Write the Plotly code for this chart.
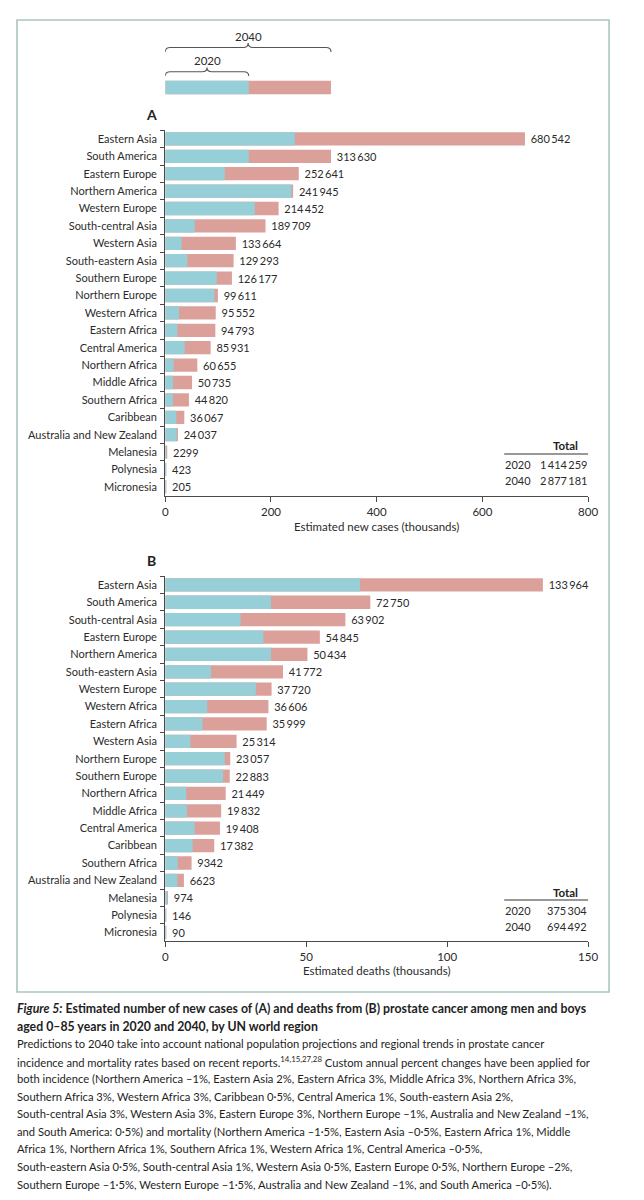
import plotly.graph_objects as go

# ---------------- data ----------------
regions_cases = ["Eastern Asia", "South America", "Eastern Europe", "Northern America",
                 "Western Europe", "South-central Asia", "Western Asia", "South-eastern Asia",
                 "Southern Europe", "Northern Europe", "Western Africa", "Eastern Africa",
                 "Central America", "Northern Africa", "Middle Africa", "Southern Africa",
                 "Caribbean", "Australia and New Zealand", "Melanesia", "Polynesia", "Micronesia"]
cases_2040 = [680542, 313630, 252641, 241945, 214452, 189709, 133664, 129293, 126177, 99611,
              95552, 94793, 85931, 60655, 50735, 44820, 36067, 24037, 2299, 423, 205]
cases_2020 = [245000, 158000, 112600, 238700, 169400, 55700, 31000, 41800, 97400, 93000,
              26000, 22800, 36700, 15900, 14600, 14600, 20900, 21600, 1100, 260, 120]

regions_deaths = ["Eastern Asia", "South America", "South-central Asia", "Eastern Europe",
                  "Northern America", "South-eastern Asia", "Western Europe", "Western Africa",
                  "Eastern Africa", "Western Asia", "Northern Europe", "Southern Europe",
                  "Northern Africa", "Middle Africa", "Central America", "Caribbean",
                  "Southern Africa", "Australia and New Zealand", "Melanesia", "Polynesia", "Micronesia"]
deaths_2040 = [133964, 72750, 63902, 54845, 50434, 41772, 37720, 36606, 35999, 25314, 23057,
               22883, 21449, 19832, 19408, 17382, 9342, 6623, 974, 146, 90]
deaths_2020 = [69100, 37500, 26700, 34800, 37500, 16200, 32100, 14900, 13200, 8900, 21100,
               20500, 7400, 7700, 10400, 9700, 4400, 4300, 450, 80, 50]

years = ["2020", "2040"]
total_cases = [1414259, 2877181]
total_deaths = [375304, 694492]

cases_ticks = [0, 200, 400, 600, 800]
deaths_ticks = [0, 50, 100, 150]

caption_lines = [
    "<b><i>Figure 5:</i> Estimated number of new cases of (A) and deaths from (B) prostate cancer among men and boys</b>",
    "<b>aged 0–85 years in 2020 and 2040, by UN world region</b>",
    "Predictions to 2040 take into account national population projections and regional trends in prostate cancer",
    "incidence and mortality rates based on recent reports.<sup>14,15,27,28</sup> Custom annual percent changes have been applied for",
    "both incidence (Northern America –1%, Eastern Asia 2%, Eastern Africa 3%, Middle Africa 3%, Northern Africa 3%,",
    "Southern Africa 3%, Western Africa 3%, Caribbean 0·5%, Central America 1%, South-eastern Asia 2%,",
    "South-central Asia 3%, Western Asia 3%, Eastern Europe 3%, Northern Europe –1%, Australia and New Zealand –1%,",
    "and South America: 0·5%) and mortality (Northern America –1·5%, Eastern Asia –0·5%, Eastern Africa 1%, Middle",
    "Africa 1%, Northern Africa 1%, Southern Africa 1%, Western Africa 1%, Central America –0·5%,",
    "South-eastern Asia 0·5%, South-central Asia 1%, Western Asia 0·5%, Eastern Europe 0·5%, Northern Europe –2%,",
    "Southern Europe –1·5%, Western Europe –1·5%, Australia and New Zealand –1%, and South America –0·5%).",
]

# ---------------- styling ----------------
REF_W, REF_H = 644, 1200       # target picture size; positions below are in its pixels
W, H = 656, 1200               # figure size (the photographed page comes out slightly narrower)
FONT = "Lato"
FS = 11
TXT = "#2b2b2b"
AXC = "#4a4a4a"
BLUE = "#96cfd8"
PINK = "#dca09b"
BORDER = "#a9c6c0"


def px(x):
    return x / REF_W


def py(y):
    return 1 - y / REF_H


def fmt(v):
    s = f"{v:,}"
    if v < 10000:
        return s.replace(",", "")
    return s.replace(",", "\u2009")


X0, X1 = 162.5, 586.0          # picture-pixel extent of both x axes
A_TOP, A_BOT = 130.2, 495.6
B_TOP, B_BOT = 576.2, 941.2
BARGAP = 0.235

fig = go.Figure()

# Panel A
fig.add_trace(go.Bar(y=regions_cases, x=[v / 1000 for v in cases_2040], orientation="h",
                     marker=dict(color=PINK, line=dict(width=0)), name="2040",
                     text=["\u202f" + fmt(v) for v in cases_2040], textposition="outside",
                     constraintext="none", cliponaxis=False,
                     textfont=dict(family=FONT, size=FS, color=TXT),
                     xaxis="x", yaxis="y", hoverinfo="x+y"))
fig.add_trace(go.Bar(y=regions_cases, x=[v / 1000 for v in cases_2020], orientation="h",
                     marker=dict(color=BLUE, line=dict(width=0)), name="2020",
                     xaxis="x", yaxis="y", hoverinfo="x+y"))

# Panel B
fig.add_trace(go.Bar(y=regions_deaths, x=[v / 1000 for v in deaths_2040], orientation="h",
                     marker=dict(color=PINK, line=dict(width=0)), name="2040",
                     text=["\u202f" + fmt(v) for v in deaths_2040], textposition="outside",
                     constraintext="none", cliponaxis=False,
                     textfont=dict(family=FONT, size=FS, color=TXT),
                     xaxis="x2", yaxis="y2", hoverinfo="x+y"))
fig.add_trace(go.Bar(y=regions_deaths, x=[v / 1000 for v in deaths_2020], orientation="h",
                     marker=dict(color=BLUE, line=dict(width=0)), name="2020",
                     xaxis="x2", yaxis="y2", hoverinfo="x+y"))

# Key bar (a copy of the South America bar of panel A)
key_idx = regions_cases.index("South America")
key_2020 = cases_2020[key_idx] / 1000
key_2040 = cases_2040[key_idx] / 1000
fig.add_trace(go.Bar(y=["key"], x=[key_2040], orientation="h", marker=dict(color=PINK, line=dict(width=0)),
                     xaxis="x", yaxis="y3", hoverinfo="skip"))
fig.add_trace(go.Bar(y=["key"], x=[key_2020], orientation="h", marker=dict(color=BLUE, line=dict(width=0)),
                     xaxis="x", yaxis="y3", hoverinfo="skip"))


def xaxis_cfg(rng, ticks, anchor):
    return dict(domain=[px(X0), px(X1)], range=rng, tickvals=ticks, anchor=anchor,
                showgrid=False, zeroline=False, showline=True, linecolor=AXC, linewidth=1.3,
                ticks="outside", ticklen=5, tickwidth=1, tickcolor=AXC,
                tickfont=dict(family=FONT, size=FS + 0.5, color=TXT), fixedrange=True)


def yaxis_cfg(top, bot, anchor):
    return dict(domain=[py(bot), py(top)], anchor=anchor, type="category", autorange="reversed",
                showgrid=False, zeroline=False, showline=True, linecolor=AXC, linewidth=1.3,
                ticks="outside", ticklen=4, tickwidth=1, tickcolor=AXC, tickson="boundaries",
                ticklabelstandoff=5,
                tickfont=dict(family=FONT, size=FS, color=TXT), fixedrange=True)


shapes = []
annotations = []

# outer frame
shapes.append(dict(type="rect", xref="paper", yref="paper", x0=px(14), x1=px(607), y0=py(992), y1=py(20),
                   line=dict(color=BORDER, width=1.6), fillcolor="rgba(0,0,0,0)", layer="below"))

# braces for the key
scale = (X1 - X0) / cases_ticks[-1] * W / REF_W   # figure pixels per thousand


def brace(x0, x1, y_end, y_bar, y_tip, curl=5):
    e = curl / scale
    m = (x0 + x1) / 2
    p = (f"M {x0},{py(y_end)} Q {x0},{py(y_bar)} {x0 + e},{py(y_bar)} "
         f"L {m - e},{py(y_bar)} Q {m},{py(y_bar)} {m},{py(y_tip)} "
         f"Q {m},{py(y_bar)} {m + e},{py(y_bar)} L {x1 - e},{py(y_bar)} "
         f"Q {x1},{py(y_bar)} {x1},{py(y_end)}")
    return dict(type="path", xref="x", yref="paper", path=p, line=dict(color="#555555", width=1.1))


shapes.append(brace(0, key_2040, 52, 47.5, 43))
shapes.append(brace(0, key_2020, 76, 71.8, 67.5))
annotations.append(dict(x=key_2040 / 2, y=py(36), xref="x", yref="paper", text=years[1], showarrow=False,
                        font=dict(family=FONT, size=FS + 0.5, color=TXT), xanchor="center", yanchor="middle"))
annotations.append(dict(x=key_2020 / 2, y=py(61), xref="x", yref="paper", text=years[0], showarrow=False,
                        font=dict(family=FONT, size=FS + 0.5, color=TXT), xanchor="center", yanchor="middle"))

# panel letters
for letter, yy in (("A", 115), ("B", 560)):
    annotations.append(dict(x=px(149), y=py(yy), xref="paper", yref="paper", text=f"<b>{letter}</b>",
                            showarrow=False, font=dict(family=FONT, size=14, color="#222"),
                            xanchor="center", yanchor="middle"))

# axis titles
annotations.append(dict(x=px((X0 + X1) / 2), y=py(526), xref="paper", yref="paper",
                        text="Estimated new cases (thousands)", showarrow=False,
                        font=dict(family=FONT, size=FS + 0.5, color=TXT), xanchor="center", yanchor="middle"))
annotations.append(dict(x=px((X0 + X1) / 2), y=py(970), xref="paper", yref="paper",
                        text="Estimated deaths (thousands)", showarrow=False,
                        font=dict(family=FONT, size=FS + 0.5, color=TXT), xanchor="center", yanchor="middle"))


# totals tables
def totals(values, y_head, y_line, y_rows):
    annotations.append(dict(x=px(563), y=py(y_head), xref="paper", yref="paper", text="<b>Total</b>",
                            showarrow=False, font=dict(family=FONT, size=FS + 0.5, color="#222"),
                            xanchor="center", yanchor="middle"))
    shapes.append(dict(type="line", xref="paper", yref="paper", x0=px(502), x1=px(586),
                       y0=py(y_line), y1=py(y_line), line=dict(color="#333", width=1)))
    for yr, v, yy in zip(years, values, y_rows):
        annotations.append(dict(x=px(501), y=py(yy), xref="paper", yref="paper", text=yr, showarrow=False,
                                font=dict(family=FONT, size=FS, color=TXT), xanchor="left", yanchor="middle"))
        annotations.append(dict(x=px(587), y=py(yy), xref="paper", yref="paper", text=fmt(v), showarrow=False,
                                font=dict(family=FONT, size=FS, color=TXT), xanchor="right", yanchor="middle"))


totals(total_cases, 446, 454, (464, 480))
totals(total_deaths, 892, 900, (910, 926.5))

# caption
for i, line in enumerate(caption_lines):
    size = 12.3 if i < 2 else 11.2
    annotations.append(dict(x=px(12.5), y=py(1008.5 + 17.55 * i), xref="paper", yref="paper", text=line,
                            showarrow=False, align="left",
                            font=dict(family=FONT, size=size, color="#1e1e1e"),
                            xanchor="left", yanchor="middle"))

fig.update_layout(
    width=W, height=H, margin=dict(l=0, r=0, t=0, b=0),
    paper_bgcolor="white", plot_bgcolor="white",
    barmode="overlay", bargap=BARGAP, showlegend=False,
    font=dict(family=FONT, size=FS, color=TXT),
    xaxis=xaxis_cfg([0, cases_ticks[-1]], cases_ticks, "y"),
    yaxis=yaxis_cfg(A_TOP, A_BOT, "x"),
    xaxis2=xaxis_cfg([0, deaths_ticks[-1]], deaths_ticks, "y2"),
    yaxis2=yaxis_cfg(B_TOP, B_BOT, "x2"),
    yaxis3=dict(domain=[py(96.2), py(78.8)], anchor="x", visible=False, range=[-0.5, 0.5],
                type="category", fixedrange=True),
    shapes=shapes, annotations=annotations,
)

# the page itself: no body margin and no scrollbars, so the figure sits at (0, 0)
page_js = ("document.documentElement.style.overflow='hidden';"
           "document.body.style.margin='0';document.body.style.overflow='hidden';")
fig.write_html("out.html", config={"responsive": False, "displayModeBar": False}, post_script=page_js)
